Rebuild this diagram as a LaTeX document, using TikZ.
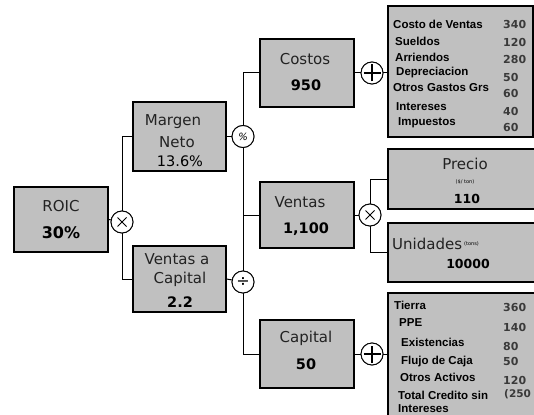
\documentclass[tikz,border=0pt]{standalone}
\usepackage{fontspec}
\setmainfont{DejaVu Sans}
\newfontfamily\detfont{Liberation Sans}
\definecolor{boxgray}{HTML}{C0C0C0}
\definecolor{txtdark}{HTML}{222222}
\definecolor{numgray}{HTML}{3A3A3A}
\tikzset{
  box/.style={draw=black,line width=1.3pt,fill=boxgray,inner sep=0pt,text width=0pt},
  op/.style={circle,draw=black,line width=0.9pt,fill=white,minimum size=22pt,inner sep=0pt},
  conn/.style={draw=black,line width=1pt},
  lbl/.style={inner sep=0pt,text=txtdark,font=\fontsize{15}{16}\selectfont},
  num/.style={inner sep=0pt,text=black,font=\fontsize{14.5}{15}\bfseries\selectfont},
  dl/.style={inner sep=0pt,anchor=west,text=black,font=\detfont\fontsize{11.5}{12}\bfseries\selectfont},
  dn/.style={inner sep=0pt,anchor=west,text=numgray,font=\fontsize{11}{12}\bfseries\selectfont},
  plusop/.style={op,path picture={\draw[line width=1.3pt] ([xshift=-8.5pt]path picture bounding box.center) -- ([xshift=8.5pt]path picture bounding box.center);
     \draw[line width=1.3pt] ([yshift=-8.5pt]path picture bounding box.center) -- ([yshift=8.5pt]path picture bounding box.center);}},
  timesop/.style={op,path picture={\draw[line width=1pt] ([shift={(-4.5pt,-4.5pt)}]path picture bounding box.center) -- ([shift={(4.5pt,4.5pt)}]path picture bounding box.center);
     \draw[line width=1pt] ([shift={(-4.5pt,4.5pt)}]path picture bounding box.center) -- ([shift={(4.5pt,-4.5pt)}]path picture bounding box.center);}}
}
\begin{document}
\begin{tikzpicture}[x=1pt,y=-1pt]
\useasboundingbox (0,0) rectangle (534,414);
\clip (0,0) rectangle (534,414);
\fill[white] (0,0) rectangle (534,414);

% boxes
\node[box,minimum width=94pt,minimum height=65pt] (roic) at (61,219.5) {};
\node[box,minimum width=93pt,minimum height=69pt] (margen) at (179.5,136.5) {};
\node[box,minimum width=93pt,minimum height=66pt] (vac) at (179.5,279) {};
\node[box,minimum width=94pt,minimum height=68pt] (costos) at (307,73) {};
\node[box,minimum width=94pt,minimum height=66pt] (ventas) at (307,215) {};
\node[box,minimum width=94pt,minimum height=68pt] (capital) at (307,354) {};
\node[box,minimum width=145pt,minimum height=131pt] (costdet) at (460.5,71.5) {};
\node[box,minimum width=152pt,minimum height=60pt] (precio) at (464,179) {};
\node[box,minimum width=152pt,minimum height=59pt] (unid) at (464,252.5) {};
\node[box,minimum width=152pt,minimum height=128pt] (capdet) at (464,357) {};

% operators
\node[timesop] (times1) at (122,222) {};
\node[op] (pct) at (243,136.5) {\fontsize{10}{10}\selectfont\textit{\%}};
\node[op] (div) at (243,282) {\fontsize{16}{16}\selectfont ÷};
\node[plusop] (plus1) at (372,73) {};
\node[timesop] (times2) at (370,215) {};
\node[plusop] (plus2) at (372,354) {};

% connectors
\draw[conn] (roic.east) -- (times1);
\draw[conn] (margen.west) -| (times1);
\draw[conn] (vac.west) -| (times1);
\draw[conn] (margen.east) -- (pct);
\draw[conn] (costos.west) -| (pct);
\draw[conn] (pct) -- (div);
\draw[conn] (ventas.west) -- (ventas.west -| pct);
\draw[conn] (vac.east) -- (div);
\draw[conn] (capital.west) -| (div);
\draw[conn] (costos.east) -- (plus1);
\draw[conn] (plus1) -- (plus1 -| costdet.west);
\draw[conn] (ventas.east) -- (times2);
\draw[conn] (precio.west) -| (times2);
\draw[conn] (unid.west) -| (times2);
\draw[conn] (capital.east) -- (plus2);
\draw[conn] (plus2) -- (plus2 -| capdet.west);
% redraw operators on top
\node[timesop] at (times1) {};
\node[op] at (pct) {\fontsize{10}{10}\selectfont\textit{\%}};
\node[op] at (div) {\fontsize{16}{16}\selectfont ÷};
\node[plusop] at (plus1) {};
\node[timesop] at (times2) {};
\node[plusop] at (plus2) {};

% box texts
\node[lbl] (troic) at (61,206) {ROIC};
\node[num,font=\fontsize{16}{17}\bfseries\selectfont] (vroic) at (61,233) {30\%};
\node[lbl] (tmar1) at (173,122) {Margen};
\node[lbl] (tmar2) at (177,142) {Neto};
\node[num,font=\fontsize{14.5}{15}\selectfont] (vmar) at (180,161) {13.6\%};
\node[lbl] (tvac1) at (177,259) {Ventas a};
\node[lbl] (tvac2) at (180,279) {Capital};
\node[num] (vvac) at (180,302) {2.2};
\node[lbl] (tcos) at (305,59) {Costos};
\node[num] (vcos) at (306,85) {950};
\node[lbl] (tven) at (300,202) {Ventas};
\node[num] (vven) at (306,229) {1,100};
\node[lbl] (tcap) at (306,338) {Capital};
\node[num] (vcap) at (306,364) {50};
\node[lbl] (tpre) at (465,164) {Precio};
\node[inner sep=0pt,font=\fontsize{5}{6}\selectfont] (upre) at (465,182) {(\$/ ton)};
\node[num,font=\fontsize{12.5}{13}\bfseries\selectfont] (vpre) at (467,199) {110};
\node[lbl,anchor=west] (tuni) at (392,244) {Unidades};
\node[inner sep=0pt,anchor=west,font=\fontsize{5}{6}\selectfont] (uuni) at (tuni.east) {~(tons)};
\node[num,font=\fontsize{12.5}{13}\bfseries\selectfont] (vuni) at (468,264) {10000};

% cost details
\node[dl] (c1) at (393,24) {Costo de Ventas};
\node[dl] (c2) at (395,41) {Sueldos};
\node[dl] (c3) at (395,57) {Arriendos};
\node[dl] (c4) at (396,73) {Depreciacion};
\node[dl] (c5) at (393,88) {Otros Gastos Grs};
\node[dl] (c6) at (396,107) {Intereses};
\node[dl] (c7) at (398,123) {Impuestos};
\node[dn] (n1) at (503,24) {340};
\node[dn] (n2) at (503,42) {120};
\node[dn] (n3) at (503,59) {280};
\node[dn] (n4) at (503,77) {50};
\node[dn] (n5) at (503,93) {60};
\node[dn] (n6) at (503,111) {40};
\node[dn] (n7) at (503,127) {60};

% capital details
\node[dl] (k1) at (394,305) {Tierra};
\node[dl] (k2) at (399,323) {PPE};
\node[dl] (k3) at (401,342) {Existencias};
\node[dl] (k4) at (401,362) {Flujo de Caja};
\node[dl] (k5) at (400,377) {Otros Activos};
\node[dl] (k6) at (398,395) {Total Credito sin};
\node[dl] (k7) at (398,409) {Intereses};
\node[dn] (m1) at (503,307) {360};
\node[dn] (m2) at (503,327) {140};
\node[dn] (m3) at (503,346) {80};
\node[dn] (m4) at (503,361) {50};
\node[dn] (m5) at (503,380) {120};
\node[dn,font=\fontsize{10.5}{11}\bfseries\selectfont] (m6) at (504,394) {(250};
\end{tikzpicture}
\end{document}
